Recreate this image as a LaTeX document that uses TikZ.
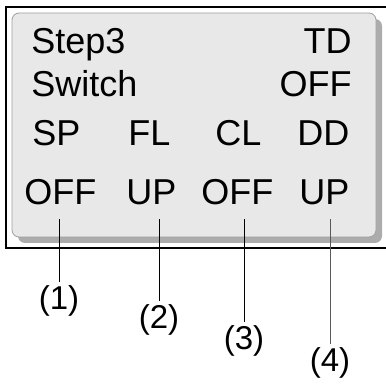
\documentclass[tikz,border=0pt]{standalone}
\usepackage{fontspec}
\setmainfont{Liberation Sans}
\usetikzlibrary{positioning, calc}

\begin{document}
\begin{tikzpicture}[
  x=1pt, y=-1pt, line width=0.8pt,
  txt/.style={inner sep=0pt, font=\fontsize{36}{40}\selectfont},
  num/.style={inner sep=3pt, anchor=north, font=\fontsize{33}{38}\selectfont},
  lead/.style={line width=0.9pt}
]
  \useasboundingbox (0,0) rectangle (386,385);
  % cadre noir, ouvert a droite
  \draw[line width=2pt] (386,7) -- (6,7) -- (6,248) -- (386,248);
  % ecran gris avec son ombre
  \fill[gray!65, rounded corners=7pt] (18,19) rectangle (382,243);
  \draw[gray!75, fill={rgb,255:red,232;green,232;blue,232}, rounded corners=7pt] (12,13) rectangle (376,237);

  \node[txt, anchor=base west] (step) at (31,54) {Step3};
  \node[txt, anchor=base east] (td) at (352,54) {TD};
  \node[txt, anchor=base west] (sw) at (31,97) {Switch};
  \node[txt, anchor=base east] (swoff) at (352,97) {OFF};

  \node[txt, anchor=base west] (sp) at (32,146) {SP};
  \node[txt, anchor=base west] (fl) at (128,146) {FL};
  \node[txt, anchor=base west] (cl) at (215,146) {CL};
  \node[txt, anchor=base west] (dd) at (297,146) {DD};

  \node[txt, anchor=base west] (v1) at (24,205) {OFF};
  \node[txt, anchor=base west] (v2) at (126,205) {UP};
  \node[txt, anchor=base west] (v3) at (201,205) {OFF};
  \node[txt, anchor=base west] (v4) at (299,205) {UP};

  % reperes
  \coordinate (c1) at (59,219);
  \coordinate (c2) at (159,219);
  \coordinate (c3) at (244,219);
  \coordinate (c4) at (330,219);

  \node[num] (l1) at (59,282) {(1)};
  \node[num] (l2) at (159,301) {(2)};
  \node[num] (l3) at (244,322) {(3)};
  \node[num] (l4) at (330,344) {(4)};

  \draw[lead] (c1) -- (l1.north);
  \draw[lead] (c2) -- (l2.north);
  \draw[lead] (c3) -- (l3.north);
  \draw[lead, gray!70!black] (c4) -- (l4.north);
\end{tikzpicture}
\end{document}
